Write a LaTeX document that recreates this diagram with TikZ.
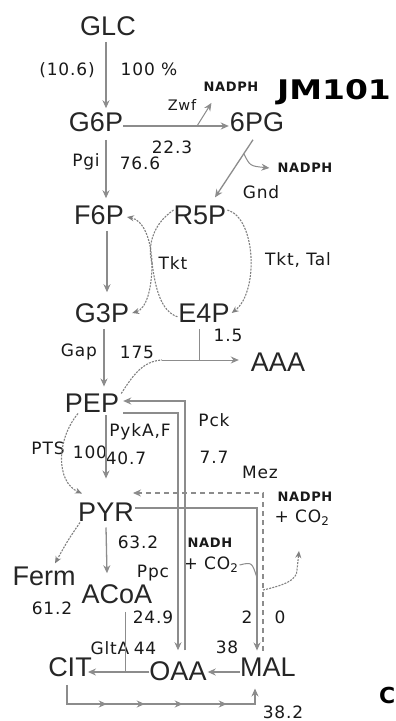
\documentclass[tikz,border=0pt]{standalone}
\usepackage{fontspec}
\setmainfont{Liberation Sans}
\newfontfamily\labfont[LetterSpace=5]{DejaVu Sans}
\newfontfamily\titlefont{DejaVu Sans}
\usetikzlibrary{arrows.meta,decorations.markings}
\begin{document}
\begin{tikzpicture}[x=1pt,y=-1pt,
  met/.style={inner sep=0pt,font=\fontsize{27}{27}\selectfont,text=black!85},
  lab/.style={inner sep=0pt,font=\labfont\fontsize{17}{17}\selectfont,text=black!90},
  labs/.style={inner sep=0pt,font=\labfont\fontsize{14.5}{14.5}\selectfont,text=black!90},
  sml/.style={inner sep=0pt,font=\labfont\bfseries\fontsize{13}{13}\selectfont,text=black!90},
  ln/.style={draw,color=black!45,line width=1.3pt},
  arr/.style={ln,-{Stealth[length=8pt,width=7pt]}},
  dl/.style={draw,color=black!50,line width=1.1pt,dash pattern=on 2pt off 1.2pt},
  darr/.style={dl,-{Stealth[length=7pt,width=6pt]}},
  mz/.style={draw,color=black!45,line width=1.2pt,dash pattern=on 5pt off 4pt,-{Stealth[length=8pt,width=7pt]}},
  midarr/.style={decoration={markings,
     mark=at position 59pt with {\arrow{Stealth[length=8pt,width=7pt]}},
     mark=at position 97pt with {\arrow{Stealth[length=8pt,width=7pt]}},
     mark=at position 135pt with {\arrow{Stealth[length=8pt,width=7pt]}},
     mark=at position 179pt with {\arrow{Stealth[length=8pt,width=7pt]}}},
     postaction={decorate}},
]
\useasboundingbox[fill=white] (0,0) rectangle (396,721);

% metabolites
\node[met] (GLC) at (108,26) {GLC};
\node[met] (G6P) at (96,122) {G6P};
\node[met] (6PG) at (257,122) {6PG};
\node[met] (F6P) at (99,215) {F6P};
\node[met] (R5P) at (200,215) {R5P};
\node[met] (G3P) at (102,313) {G3P};
\node[met] (E4P) at (204,313) {E4P};
\node[met] (AAA) at (278,362) {AAA};
\node[met] (PEP) at (92,403) {PEP};
\node[met] (PYR) at (106,512) {PYR};
\node[met] (Ferm) at (44,576) {Ferm};
\node[met] (ACoA) at (117,594) {ACoA};
\node[met] (CIT) at (70,667) {CIT};
\node[met] (OAA) at (178,671) {OAA};
\node[met] (MAL) at (268,667) {MAL};

% title and fragment
\node[inner sep=0pt,font=\titlefont\bfseries\fontsize{27}{27}\selectfont,text=black] (jm) at (334,92) {\scalebox{1.22}[1]{JM101}};
\node[inner sep=0pt,anchor=east,font=\titlefont\bfseries\fontsize{22}{22}\selectfont,text=black] (cfrag) at (395.5,695) {C};

% labels
\node[lab] (l106) at (67,70) {(10.6)};
\node[lab] (l100p) at (149,69) {100 \%};
\node[labs] (zwf) at (182,105) {Zwf};
\node[sml] (nadph1) at (231,87) {NADPH};
\node[lab] (l223) at (172,147) {22.3};
\node[lab] (pgi) at (86,162) {Pgi};
\node[lab] (l766) at (140,163) {76.6};
\node[sml] (nadph2) at (305,168) {NADPH};
\node[lab] (gnd) at (261,192) {Gnd};
\node[lab] (tkt) at (173,263) {Tkt};
\node[lab] (tkttal) at (298,260) {Tkt, Tal};
\node[lab] (gap) at (79,352) {Gap};
\node[lab] (l175) at (137,352) {175};
\node[lab] (l15) at (228,335) {1.5};
\node[lab] (pck) at (214,420) {Pck};
\node[lab] (pyk) at (140,432) {PykA,F};
\node[lab] (pts) at (48,448) {PTS};
\node[lab] (l100) at (90,452) {100};
\node[lab] (l407) at (126,458) {40.7};
\node[lab] (l77) at (214,457) {7.7};
\node[lab] (mez) at (260,472) {Mez};
\node[sml] (nadph3) at (305,497) {NADPH};
\node[lab] (co2c) at (302,518) {+ CO\textsubscript{2}};
\node[lab] (l632) at (138,542) {63.2};
\node[sml] (nadh) at (210,543) {NADH};
\node[lab] (co2a) at (211,565) {+ CO\textsubscript{2}};
\node[lab] (ppc) at (153,573) {Ppc};
\node[lab] (l612) at (52,608) {61.2};
\node[lab] (l249) at (153,617) {24.9};
\node[lab] (l2) at (247,617) {2};
\node[lab] (l0) at (280,617) {0};
\node[lab] (glta) at (110,648) {GltA};
\node[lab] (l44) at (145,648) {44};
\node[lab] (l38) at (227,647) {38};
\node[lab] (l382) at (283,712) {38.2};

% coordinates
\coordinate (zb) at (197,126);
\coordinate (br2) at (244,154);
\coordinate (tk) at (152,263);
\coordinate (aj) at (199,360);
\coordinate (cv) at (162,360);
\coordinate (bj) at (257,578);
\coordinate (mj) at (263,590);
\coordinate (gj) at (125,672);
\coordinate (cb) at (67,704);

% upper glycolysis
\draw[arr] ([shift={(-2,6)}]GLC.south) -- ([shift={(10,-4)}]G6P.north);
\draw[arr] ([shift={(0,4)}]G6P.east) -- ([shift={(-1,4)}]6PG.west);
\draw[arr,line width=1pt] (zb) -- ([shift={(8,11)}]nadph1.south west);
\draw[arr] ([shift={(10,8)}]G6P.south) -- ([shift={(7,-7)}]F6P.north);
\draw[arr] ([shift={(-4,8)}]6PG.south) -- ([shift={(15,-8)}]R5P.north);
\draw[arr,line width=1pt] (br2) .. controls (250,166) .. ([shift={(-8,0)}]nadph2.west);
\draw[arr] ([shift={(8,6)}]F6P.south) -- ([shift={(5,-11)}]G3P.north);

% pentose phosphate loops
\draw[darr] ([shift={(1,-5)}]R5P.east) .. controls (256,218) and (259,292) .. ([shift={(2,0)}]E4P.east);
\draw[dl] ([shift={(0,-5)}]R5P.west) .. controls (150,226) and (148,250) .. (tk)
   .. controls (155,285) and (160,312) .. ([shift={(0,4)}]E4P.west);
\draw[darr] (tk) .. controls (151,238) and (143,220) .. ([shift={(3,2)}]F6P.east);
\draw[darr] (tk) .. controls (152,290) and (146,309) .. ([shift={(3,0)}]G3P.east);

% lower glycolysis
\draw[arr] ([shift={(2,6)}]G3P.south) -- ([shift={(12,-7)}]PEP.north);
\draw[ln,line width=1pt] ([shift={(-5,7)}]E4P.south) -- (aj);
\draw[dl] ([shift={(2,0)}]PEP.north east) .. controls (132,377) and (142,361) .. (cv);
\draw[arr,line width=1pt] (cv) -- ([shift={(-12,-2)}]AAA.west);
\draw[arr] ([shift={(4,10)}]PEP.east) -| ([shift={(0,-11)}]OAA.north);
\draw[arr] ([shift={(7,-11)}]OAA.north) |- ([shift={(4,-2)}]PEP.east);
\draw[arr] ([shift={(14,3)}]PEP.south) -- ([shift={(0,-24)}]PYR.north);
\draw[darr] ([shift={(-14,1)}]PEP.south) .. controls (56,440) and (56,482) .. ([shift={(-24,-9)}]PYR.north);

% malic enzyme and pyruvate carboxylation
\draw[mz] ([shift={(-5,-7)}]MAL.north) |- ([shift={(-1,-19)}]PYR.east);
\draw[arr] ([shift={(1,-4)}]PYR.east) -| ([shift={(-11,-7)}]MAL.north);
\draw[ln,line width=1pt] ([shift={(1,0)}]co2a.east) .. controls (252,562) .. (bj);
\draw[darr] (mj) .. controls (285,585) and (297,580) .. (297,570) -- ([shift={(-3,25)}]co2c.south);

% pyruvate branches
\draw[arr] ([shift={(0,6)}]PYR.south) -- ([shift={(-10,-11)}]ACoA.north);
\draw[darr] ([shift={(-26,1)}]PYR.south) .. controls (68,540) .. ([shift={(11,-3)}]Ferm.north);

% TCA
\draw[ln,line width=1pt] ([shift={(8,8)}]ACoA.south) -- (gj);
\draw[arr] ([shift={(0,1)}]OAA.west) -- ([shift={(-4,5)}]CIT.east);
\draw[arr] ([shift={(0,5)}]MAL.west) -- ([shift={(1,1)}]OAA.east);
\draw[arr,midarr] ([shift={(-3,8)}]CIT.south) -- (cb) -| ([shift={(-13,12)}]MAL.south);
\end{tikzpicture}
\end{document}
